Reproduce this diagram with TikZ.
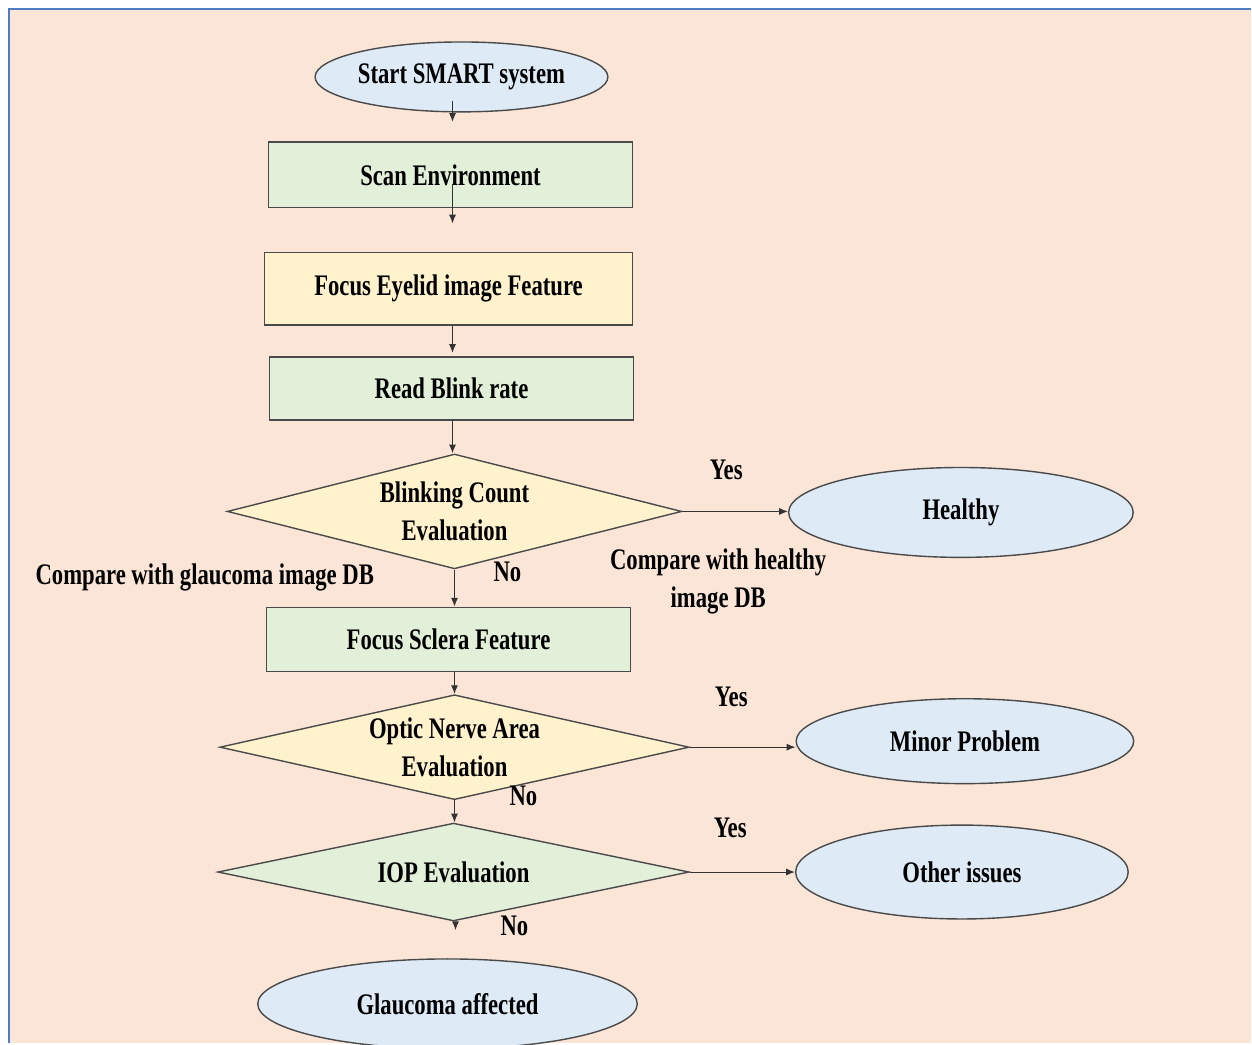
\documentclass[tikz,border=0pt]{standalone}
\usepackage{fontspec}
\setmainfont{Liberation Serif}[FakeStretch=0.76]
\usepackage{xcolor}
\usepackage{tikz}
\usetikzlibrary{shapes.geometric,arrows.meta,positioning,calc}

\definecolor{pagebg}{HTML}{FBE5D6}
\definecolor{framebl}{HTML}{4F7CC4}
\definecolor{termbl}{HTML}{DEEBF7}
\definecolor{procgr}{HTML}{E2F0D9}
\definecolor{procyl}{HTML}{FFF2CC}
\definecolor{edgegr}{HTML}{4A4A4A}

\begin{document}
\begin{tikzpicture}[x=0.02cm, y=-0.02cm,
    every node/.style={font=\fontsize{17}{22}\selectfont\bfseries, text=black},
    term/.style={ellipse, draw=edgegr, fill=termbl, line width=0.8pt, inner sep=0pt},
    proc/.style={rectangle, draw=edgegr, fill=procgr, line width=0.8pt,
        minimum width=7.3cm, minimum height=1.32cm},
    decide/.style={diamond, draw=edgegr, fill=procyl, line width=0.8pt, inner sep=0pt,
        aspect=4, align=center},
    flow/.style={-{Latex[length=5pt,width=4pt]}, line width=0.6pt, draw=black!80},
    lbl/.style={inner sep=0pt}]

    % page and frame
    \fill[white] (0,0) rectangle (1252,1044);
    \fill[pagebg] (9,9) rectangle (1252,1044);
    \draw[framebl, line width=1.6pt] (9,1044) -- (9,9) -- (1252,9);
    \useasboundingbox (0,0) rectangle (1252,1044);

    % main column
    \node[term, minimum width=5.76cm, minimum height=1.4cm] (start) at (462,77) {Start SMART system};
    \node[proc] (scan) at (451,175) {Scan Environment};
    \node[proc, fill=procyl, minimum width=7.36cm, minimum height=1.46cm] (eyelid) at (449,289) {Focus Eyelid image Feature};
    \node[proc, minimum height=1.26cm] (blink) at (452,389) {Read Blink rate};
    \node[decide, minimum width=9.1cm, minimum height=2.3cm] (count) at (455,512) {Blinking Count\\Evaluation};
    \node[proc, minimum height=1.28cm] (sclera) at (449,640) {Focus Sclera Feature};
    \node[decide, minimum width=9.4cm, minimum height=2.1cm] (optic) at (455,748) {Optic Nerve Area\\Evaluation};
    \node[decide, fill=procgr, minimum width=9.44cm, minimum height=1.96cm] (iop) at (454,873) {IOP Evaluation};
    \node[term, minimum width=7.6cm, minimum height=1.8cm] (glauc) at (448,1005) {Glaucoma affected};

    % outcomes
    \node[term, minimum width=6.9cm, minimum height=1.8cm] (healthy) at (962,513) {Healthy};
    \node[term, minimum width=6.76cm, minimum height=1.7cm] (minor) at (966,742) {Minor Problem};
    \node[term, minimum width=6.66cm, minimum height=1.88cm] (other) at (963,873) {Other issues};

    % vertical flow
    \draw[flow, shorten >=11pt] (start.south) ++(-9,-12) coordinate (s0) -- (s0 |- scan.north);
    \draw[flow, shorten >=16pt] (scan.south) ++(2,-24) coordinate (s1) -- (s1 |- eyelid.north);
    \draw[flow, shorten >=2pt] (eyelid.south) ++(4,0) coordinate (s2) -- (s2 |- blink.north);
    \draw[flow] (blink.south) ++(1,0) coordinate (s3) -- (s3 |- count.north);
    \draw[flow] (count.south) -- (count.south |- sclera.north);
    \draw[flow] (sclera.south) ++(6,0) coordinate (s5) -- (s5 |- optic.north);
    \draw[flow] (optic.south) -- (optic.south |- iop.north);
    \draw[flow, shorten >=16pt] (iop.south) ++(2,0) coordinate (s7) -- (s7 |- glauc.north);

    % yes branches
    \draw[flow] (count.east) -- (count.east -| healthy.west);
    \draw[flow] (optic.east) -- (optic.east -| minor.west);
    \draw[flow] (iop.east) -- (iop.east -| other.west);

    % labels
    \node[lbl] (yes1) at (727,470) {Yes};
    \node[lbl] (yes2) at (732,698) {Yes};
    \node[lbl] (yes3) at (731,829) {Yes};
    \node[lbl] (no1) at (508,573) {No};
    \node[lbl] (no2) at (524,797) {No};
    \node[lbl] (no3) at (515,927) {No};
    \node[lbl] (cmpglau) at (205,578) {Compare with glaucoma image DB};
    \node[lbl, align=center] (cmpheal) at (719,582) {Compare with healthy\\image DB};
\end{tikzpicture}
\end{document}
